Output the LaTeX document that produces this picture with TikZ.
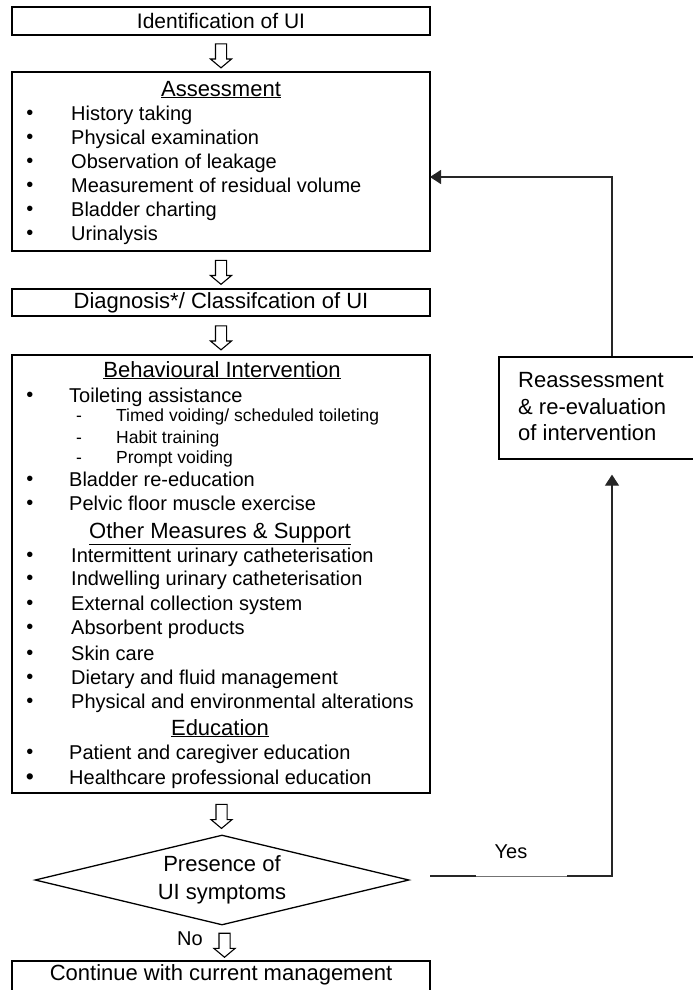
\documentclass[tikz,border=0pt]{standalone}
\usepackage{fontspec}
\setmainfont{Liberation Sans}
\usetikzlibrary{shapes.geometric,shapes.arrows,arrows.meta,calc}

\tikzset{
  box/.style={draw, line width=1.6pt, rectangle, inner sep=0pt},
  hollow/.style={single arrow, draw, line width=1.1pt, shape border rotate=270, minimum height=24pt, inner sep=5pt, single arrow head extend=5pt, single arrow tip angle=100},
  entry/.style={anchor=west, inner sep=0pt, font=\fontsize{20}{24}\selectfont, text height=14pt, text depth=0pt},
  subentry/.style={entry, font=\fontsize{17.5}{21}\selectfont, text height=12.5pt},
  bulletdot/.style={inner sep=0pt, font=\fontsize{20}{24}\selectfont, yshift=-2pt},
  heading/.style={inner sep=0pt, font=\fontsize{22}{26}\selectfont, text height=16pt, text depth=0pt},
  fb/.style={line width=1.3pt, draw=black!85},
  tip/.style={-{Triangle[length=11pt,width=14pt]}},
}

\begin{document}
\begin{tikzpicture}[x=1pt, y=-1pt]
    \useasboundingbox (0,0) rectangle (693,990);
    \clip (0,0) rectangle (693,990);

    % main column
    \node[box, minimum width=418pt, minimum height=28pt, font=\fontsize{21}{25}\selectfont] (ident) at (221,21) {Identification of UI};
    \node[box, minimum width=418pt, minimum height=179pt] (assess) at (221,161.5) {};
    \node[box, minimum width=418pt, minimum height=27pt, font=\fontsize{22}{26}\selectfont] (diag) at (221,302.5) {Diagnosis*/ Classifcation of UI};
    \node[box, minimum width=418pt, minimum height=438pt] (behav) at (221,574) {};
    \node[diamond, draw, line width=1.3pt, aspect=4.15, minimum width=374pt, minimum height=90pt, inner sep=0pt, align=center, font=\fontsize{22}{28}\selectfont] (presence) at (222,880) {Presence of\\UI symptoms};
    \node[box, minimum width=418pt, minimum height=40pt] (cont) at (221,981) {};
    \node[inner sep=0pt, font=\fontsize{22}{26}\selectfont] (conttext) at (221,975) {Continue with current management};

    \node[hollow] (h1) at ($(ident.south)!0.5!(assess.north)$) {};
    \node[hollow] (h2) at ($(assess.south)!0.5!(diag.north)$) {};
    \node[hollow] (h3) at ($(diag.south)!0.5!(behav.north)$) {};
    \node[hollow] (h4) at ($(behav.south)!0.5!(presence.north)$) {};
    \node[hollow, xshift=3pt] (h5) at ($(presence.south)!0.5!(cont.north)$) {};
    \node[entry, font=\fontsize{20}{24}\selectfont] (no) at (177,938) {No};

    % assessment
    \node[heading] (asshead) at (221,88) {\underline{Assessment}};
    \node[bulletdot] (ad1) at (30,113) {•};
    \node[entry] (a1) at (71,113) {History taking};
    \node[bulletdot] (ad2) at (30,137) {•};
    \node[entry] (a2) at (71,137) {Physical examination};
    \node[bulletdot] (ad3) at (30,161) {•};
    \node[entry] (a3) at (71,161) {Observation of leakage};
    \node[bulletdot] (ad4) at (30,185) {•};
    \node[entry] (a4) at (71,185) {Measurement of residual volume};
    \node[bulletdot] (ad5) at (30,209) {•};
    \node[entry] (a5) at (71,209) {Bladder charting};
    \node[bulletdot] (ad6) at (30,233) {•};
    \node[entry] (a6) at (71,233) {Urinalysis};

    % behavioural intervention
    \node[heading] (bhead) at (222,369) {\underline{Behavioural Intervention}};
    \node[bulletdot] (bd1) at (30,395) {•};
    \node[entry] (b1) at (69,395) {Toileting assistance};
    \node[subentry] (sd1) at (76,415) {-};
    \node[subentry] (s1) at (116,415) {Timed voiding/ scheduled toileting};
    \node[subentry] (sd2) at (76,437) {-};
    \node[subentry] (s2) at (116,437) {Habit training};
    \node[subentry] (sd3) at (76,457) {-};
    \node[subentry] (s3) at (116,457) {Prompt voiding};
    \node[bulletdot] (bd2) at (30,479) {•};
    \node[entry] (b2) at (69,479) {Bladder re-education};
    \node[bulletdot] (bd3) at (30,503) {•};
    \node[entry] (b3) at (69,503) {Pelvic floor muscle exercise};

    \node[heading] (ohead) at (220,530) {\underline{Other Measures \& Support}};
    \node[bulletdot] (od1) at (30,555) {•};
    \node[entry] (o1) at (71,555) {Intermittent urinary catheterisation};
    \node[bulletdot] (od2) at (30,578) {•};
    \node[entry] (o2) at (71,578) {Indwelling urinary catheterisation};
    \node[bulletdot] (od3) at (30,603) {•};
    \node[entry] (o3) at (71,603) {External collection system};
    \node[bulletdot] (od4) at (30,627) {•};
    \node[entry] (o4) at (71,627) {Absorbent products};
    \node[bulletdot] (od5) at (30,653) {•};
    \node[entry] (o5) at (71,653) {Skin care};
    \node[bulletdot] (od6) at (30,677) {•};
    \node[entry] (o6) at (71,677) {Dietary and fluid management};
    \node[bulletdot] (od7) at (30,701) {•};
    \node[entry] (o7) at (71,701) {Physical and environmental alterations};

    \node[heading] (ehead) at (220,727) {\underline{Education}};
    \node[bulletdot] (ed1) at (30,752) {•};
    \node[entry] (e1) at (69,752) {Patient and caregiver education};
    \node[bulletdot, scale=1.15] (ed2) at (30,777) {•};
    \node[entry] (e2) at (69,777) {Healthcare professional education};

    % reassessment loop
    \node[box, line width=1.3pt, minimum width=226pt, minimum height=102pt] (reassess) at (612,408) {};
    \node[anchor=west, inner sep=0pt, align=left, font=\fontsize{22}{26.5}\selectfont] (retext) at (518,407) {Reassessment\\\& re-evaluation\\of intervention};

    \coordinate (fbin) at (430,177);
    \coordinate (yesA) at (430,876);
    \coordinate (yesL) at (476,876);
    \coordinate (yesR) at (567,876);
    \node[inner sep=0pt, font=\fontsize{20}{24}\selectfont] (yes) at (511,852) {Yes};

    \draw[fb] (yesA) -- (yesL);
    \draw[line width=0.6pt, draw=black!55] (yesL) -- (yesR);
    \draw[fb, tip, shorten >=15pt] (yesR) -| (reassess.south);
    \draw[fb, tip] (reassess.north) |- (fbin);
\end{tikzpicture}
\end{document}
